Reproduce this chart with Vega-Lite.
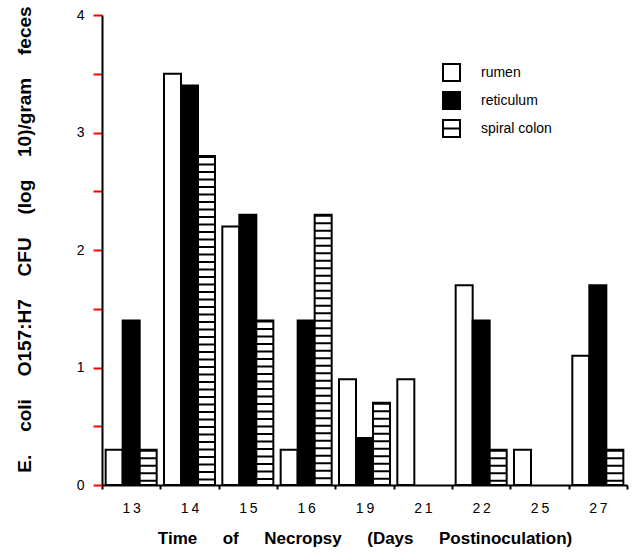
{
  "$schema": "https://vega.github.io/schema/vega-lite/v6.json",
  "width": 525,
  "height": 470,
  "autosize": "none",
  "padding": {"left": 102, "top": 15, "right": 5, "bottom": 72},
  "background": "white",
  "config": {
    "view": {"stroke": null},
    "font": "Liberation Sans",
    "axis": {
      "grid": false,
      "domainColor": "black",
      "domainWidth": 2,
      "labelColor": "black",
      "titleColor": "black",
      "labelFont": "Liberation Sans",
      "titleFont": "Liberation Sans",
      "labelFontSize": 14,
      "titleFontSize": 17,
      "titleFontWeight": "bold"
    }
  },
  "data": {
    "values": [
      {"day": "13", "series": "rumen", "v": 0.3},
      {"day": "13", "series": "reticulum", "v": 1.4},
      {"day": "13", "series": "spiral colon", "v": 0.3},
      {"day": "14", "series": "rumen", "v": 3.5},
      {"day": "14", "series": "reticulum", "v": 3.4},
      {"day": "14", "series": "spiral colon", "v": 2.8},
      {"day": "15", "series": "rumen", "v": 2.2},
      {"day": "15", "series": "reticulum", "v": 2.3},
      {"day": "15", "series": "spiral colon", "v": 1.4},
      {"day": "16", "series": "rumen", "v": 0.3},
      {"day": "16", "series": "reticulum", "v": 1.4},
      {"day": "16", "series": "spiral colon", "v": 2.3},
      {"day": "19", "series": "rumen", "v": 0.9},
      {"day": "19", "series": "reticulum", "v": 0.4},
      {"day": "19", "series": "spiral colon", "v": 0.7},
      {"day": "21", "series": "rumen", "v": 0.9},
      {"day": "22", "series": "rumen", "v": 1.7},
      {"day": "22", "series": "reticulum", "v": 1.4},
      {"day": "22", "series": "spiral colon", "v": 0.3},
      {"day": "25", "series": "rumen", "v": 0.3},
      {"day": "27", "series": "rumen", "v": 1.1},
      {"day": "27", "series": "reticulum", "v": 1.7},
      {"day": "27", "series": "spiral colon", "v": 0.3}
    ]
  },
  "encoding": {
    "x": {
      "field": "day",
      "type": "ordinal",
      "scale": {"paddingInner": 0, "paddingOuter": 0},
      "axis": {
        "title": "Time\u2003\u2002of\u2003\u2002Necropsy\u2003\u2002(Days\u2003\u2002Postinoculation)",
        "tickBand": "extent",
        "tickSize": 4,
        "tickColor": "black",
        "tickWidth": 2,
        "labelAngle": 0,
        "labelPadding": 12,
        "labelExpr": "substring(datum.label,0,1) + '\u2009' + substring(datum.label,1)",
        "titlePadding": 15
      }
    },
    "xOffset": {
      "field": "series",
      "type": "nominal",
      "scale": {"domain": ["rumen", "reticulum", "spiral colon"], "paddingInner": 0, "paddingOuter": 0.215}
    },
    "y": {
      "field": "v",
      "type": "quantitative",
      "scale": {"domain": [0, 4]},
      "axis": {
        "title": "E.\u2003\u2009coli\u2003\u2009O157:H7\u2003\u2009CFU\u2003\u2009(log\u2003\u200910)/gram\u2003\u2009feces",
        "titleFontSize": 19,
        "values": [0, 0.5, 1, 1.5, 2, 2.5, 3, 3.5, 4],
        "labelExpr": "datum.value % 1 === 0 ? format(datum.value, 'd') : ''",
        "ticks": true,
        "tickColor": "red",
        "tickWidth": 2,
        "tickOpacity": 1,
        "tickSize": 9,
        "labelPadding": 9,
        "titlePadding": 42,
        "titleY": 224
      }
    }
  },
  "layer": [
    {
      "mark": {"type": "bar", "stroke": "black", "strokeWidth": 2},
      "encoding": {
        "fill": {
          "field": "series",
          "type": "nominal",
          "scale": {"domain": ["rumen", "reticulum", "spiral colon"], "range": ["white", "black", "white"]},
          "legend": {
            "title": null,
            "orient": "none",
            "legendX": 340,
            "legendY": 48,
            "padding": 0,
            "symbolSize": 289,
            "symbolType": "square",
            "symbolStrokeColor": "black",
            "symbolStrokeWidth": 2,
            "labelFont": "Liberation Sans",
            "labelFontSize": 14,
            "labelColor": "black",
            "labelOffset": 20,
            "rowPadding": 3,
            "encode": {
              "symbols": {
                "update": {
                  "shape": {"signal": "datum.value === 'spiral colon' ? 'M-1,-1H1V1H-1ZM-1,0H1' : 'square'"}
                }
              }
            }
          }
        }
      }
    },
    {
      "transform": [{"filter": "datum.series === 'spiral colon'"}],
      "mark": {"type": "rule", "strokeWidth": 17, "strokeDash": [2, 5.5], "color": "black", "strokeCap": "butt"},
      "encoding": {"y2": {"datum": 0}}
    }
  ]
}
